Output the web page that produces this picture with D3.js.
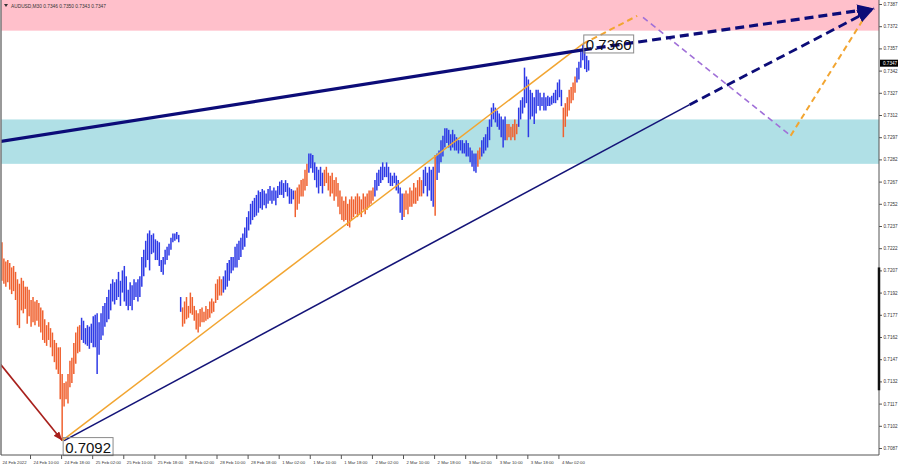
<!DOCTYPE html>
<html><head><meta charset="utf-8">
<script src="https://cdn.jsdelivr.net/npm/d3@7"></script>
<style>body{margin:0;background:#fff}svg{display:block}</style>
</head><body>
<svg id="c" width="900" height="468"></svg>
<script>
// ---------- DATA ----------
const symbolTitle = "AUDUSD,M30  0.7346 0.7350 0.7343 0.7347";
const lastPrice = 0.7347;
const barHighs = [
0.7226,0.7215,0.7213,0.7214,0.7212,0.7209,0.7210,0.7206,0.7201,0.7198,
0.7202,0.7200,0.7196,0.7196,0.7194,0.7187,0.7189,0.7186,0.7187,0.7185,
0.7182,0.7180,0.7174,0.7170,0.7172,0.7168,0.7165,0.7160,0.7158,0.7155,
0.7155,0.7137,0.7131,0.7132,0.7137,0.7146,0.7148,0.7158,0.7165,0.7169,
0.7170,0.7175,0.7173,0.7168,0.7170,0.7169,0.7171,0.7176,0.7177,0.7178,
0.7172,0.7178,0.7183,0.7185,0.7189,0.7194,0.7198,0.7201,0.7199,0.7201,
0.7206,0.7200,0.7207,0.7210,0.7203,0.7194,0.7199,0.7197,0.7201,0.7199,
0.7201,0.7203,0.7216,0.7221,0.7227,0.7232,0.7234,0.7231,0.7232,0.7228,
0.7227,0.7226,0.7214,0.7216,0.7221,0.7223,0.7225,0.7229,0.7232,0.7232,
0.7233,0.7231,
0.7189,0.7182,0.7186,0.7189,0.7183,0.7192,0.7189,0.7183,0.7180,0.7178,
0.7181,0.7182,0.7179,0.7183,0.7181,0.7186,0.7188,0.7186,0.7198,0.7201,
0.7203,0.7201,0.7203,0.7207,0.7212,0.7214,0.7216,0.7216,0.7223,0.7225,
0.7227,0.7229,0.7232,0.7236,0.7243,0.7247,0.7252,0.7254,
0.7256,0.7258,0.7261,0.7260,0.7262,0.7261,0.7259,0.7262,0.7264,0.7261,
0.7263,0.7261,0.7264,0.7267,0.7268,0.7266,0.7268,0.7266,0.7263,0.7262,
0.7261,0.7261,0.7263,0.7265,0.7268,0.7269,0.7275,0.7279,0.7286,0.7286,
0.7285,0.7280,0.7277,0.7275,0.7277,0.7273,
0.7275,0.7277,0.7273,0.7271,0.7273,0.7268,0.7270,0.7266,0.7261,0.7257,
0.7254,0.7257,0.7252,0.7255,0.7257,0.7255,0.7257,0.7259,0.7257,0.7255,
0.7259,0.7257,0.7259,0.7261,0.7261,0.7263,0.7268,0.7273,0.7275,0.7277,
0.7280,0.7277,0.7280,0.7277,0.7273,0.7271,0.7273,0.7271,0.7268,0.7263,
0.7259,
0.7259,0.7261,0.7259,0.7263,0.7261,0.7266,0.7263,0.7268,0.7270,0.7268,
0.7275,0.7277,0.7273,0.7277,0.7275,0.7277,0.7285,0.7286,0.7288,0.7295,
0.7298,0.7303,0.7303,0.7302,0.7299,0.7302,0.7299,0.7297,0.7295,0.7295,
0.7295,0.7293,0.7295,0.7293,0.7290,0.7288,0.7286,0.7286,0.7288,0.7290,
0.7295,0.7297,0.7299,0.7304,0.7309,0.7317,0.7320,0.7317,0.7315,0.7313,
0.7311,0.7309,0.7311,0.7306,0.7306,0.7304,0.7306,0.7309,0.7306,0.7317,
0.7322,0.7324,0.7344,0.7338,0.7336,0.7329,0.7327,0.7324,0.7329,0.7329,
0.7327,0.7324,0.7327,0.7324,0.7325,0.7324,0.7325,0.7327,0.7329,0.7334,
0.7336,0.7329,0.7317,0.7320,0.7324,0.7329,0.7331,0.7334,0.7338,0.7344,
0.7348,0.7356,0.7360,0.7355,0.7352,0.7349
];
const barLows = [
0.7200,0.7198,0.7196,0.7199,0.7194,0.7191,0.7193,0.7187,0.7170,0.7168,
0.7180,0.7178,0.7181,0.7171,0.7176,0.7169,0.7172,0.7170,0.7173,0.7169,
0.7165,0.7160,0.7158,0.7156,0.7160,0.7155,0.7149,0.7145,0.7140,0.7137,
0.7120,0.7092,0.7115,0.7120,0.7117,0.7128,0.7131,0.7137,0.7144,0.7151,
0.7152,0.7160,0.7158,0.7157,0.7156,0.7154,0.7158,0.7155,0.7155,0.7137,
0.7150,0.7160,0.7163,0.7169,0.7172,0.7174,0.7180,0.7186,0.7184,0.7187,
0.7189,0.7183,0.7192,0.7186,0.7183,0.7180,0.7183,0.7180,0.7187,0.7189,
0.7186,0.7189,0.7196,0.7203,0.7209,0.7214,0.7207,0.7218,0.7219,0.7214,
0.7214,0.7210,0.7206,0.7204,0.7211,0.7214,0.7217,0.7221,0.7226,0.7227,
0.7228,0.7226,
0.7179,0.7169,0.7171,0.7174,0.7175,0.7178,0.7177,0.7173,0.7167,0.7165,
0.7169,0.7172,0.7172,0.7173,0.7174,0.7175,0.7178,0.7179,0.7185,0.7187,
0.7190,0.7190,0.7192,0.7194,0.7196,0.7200,0.7205,0.7207,0.7209,0.7209,
0.7214,0.7216,0.7221,0.7223,0.7229,0.7234,0.7238,0.7241,
0.7243,0.7244,0.7246,0.7249,0.7248,0.7251,0.7249,0.7252,0.7254,0.7252,
0.7254,0.7251,0.7256,0.7258,0.7258,0.7256,0.7260,0.7257,0.7252,0.7252,
0.7255,0.7243,0.7248,0.7252,0.7257,0.7257,0.7261,0.7264,0.7273,0.7276,
0.7273,0.7268,0.7263,0.7259,0.7264,0.7259,
0.7264,0.7266,0.7261,0.7257,0.7259,0.7254,0.7257,0.7250,0.7245,0.7241,
0.7240,0.7241,0.7237,0.7236,0.7241,0.7243,0.7245,0.7243,0.7245,0.7243,
0.7248,0.7245,0.7248,0.7250,0.7252,0.7254,0.7257,0.7261,0.7264,0.7266,
0.7268,0.7270,0.7270,0.7266,0.7264,0.7264,0.7266,0.7261,0.7259,0.7246,
0.7241,
0.7243,0.7248,0.7245,0.7250,0.7250,0.7252,0.7252,0.7254,0.7257,0.7257,
0.7259,0.7264,0.7257,0.7261,0.7254,0.7250,0.7244,0.7268,0.7273,0.7280,
0.7284,0.7290,0.7293,0.7290,0.7288,0.7290,0.7288,0.7288,0.7286,0.7288,
0.7286,0.7286,0.7284,0.7284,0.7280,0.7277,0.7274,0.7273,0.7277,0.7282,
0.7284,0.7286,0.7288,0.7290,0.7295,0.7304,0.7309,0.7307,0.7304,0.7302,
0.7297,0.7290,0.7295,0.7295,0.7297,0.7295,0.7297,0.7295,0.7299,0.7304,
0.7309,0.7313,0.7317,0.7320,0.7297,0.7309,0.7311,0.7306,0.7313,0.7318,
0.7315,0.7318,0.7315,0.7315,0.7318,0.7318,0.7319,0.7320,0.7320,0.7322,
0.7324,0.7318,0.7297,0.7304,0.7311,0.7315,0.7320,0.7322,0.7327,0.7334,
0.7336,0.7344,0.7349,0.7343,0.7341,0.7342
];
// bar colour runs: d = down wave (orange), u = up wave (blue)
const colorRuns = [["d",41],["u",52],["d",21],["u",37],["d",7],["u",8],["d",26],["u",15],["d",10],["u",6],["d",1],["u",21],["d",2],["u",13],["d",6],["u",23],["d",7],["u",7]];
const priceTicks = [0.7387,0.7372,0.7357,0.7342,0.7327,0.7312,0.7297,0.7282,0.7267,0.7252,0.7237,0.7222,0.7207,0.7192,0.7177,0.7162,0.7147,0.7132,0.7117,0.7102,0.7087];
const timeTickBars = [0,16,32,48,64,80,96,112,128,144,160,176,192,208,224,240,256,272,288];
const timeTickLabels = ["24 Feb 2022","24 Feb 10:00","24 Feb 18:00","25 Feb 02:00","25 Feb 10:00","25 Feb 18:00","28 Feb 02:00","28 Feb 10:00","28 Feb 18:00","1 Mar 02:00","1 Mar 10:00","1 Mar 18:00","2 Mar 02:00","2 Mar 10:00","2 Mar 18:00","3 Mar 02:00","3 Mar 10:00","3 Mar 18:00","4 Mar 02:00"];
// zones [top price, bottom price]
const resistanceZone = [0.7395, 0.7369];
const supportZone = [0.7309, 0.7279];
// wave points [bar index, price]
const waveLow = [31, 0.7092];
const waveHigh = [299, 0.7360];
const priorDecline = [[-1, 0.7144], [31, 0.7092]];
const upperLineSolid = [[-1, 0.7294], [299, 0.7356]];
const upperLineDash = [[299, 0.7356], [449, 0.7384]];
const lowerLineSolid = [[32, 0.7092], [354, 0.7319]];
const lowerLineDash = [[354, 0.7319], [449, 0.7384]];
const waveLineSolid = [[31, 0.7092], [299, 0.7360]];
const waveLineDash = [[299, 0.7360], [327, 0.7379]];
const forecastDown = [[330, 0.7378], [406, 0.7298]];
const forecastUp = [[406, 0.7298], [444, 0.7378]];
const activeRange = [0.7209, 0.7126];

// ---------- CHART ----------
const svg = d3.select("#c");
const L = 1, R = 879, T = 0, B = 455;
const x = d3.scaleLinear().domain([-1, 452]).range([0, 880]);
const y = d3.scaleLinear().domain([0.7087, 0.7387]).range([448, 4]);
const defs = svg.append("defs");
defs.append("clipPath").attr("id","plot").append("rect").attr("x",L).attr("y",T).attr("width",R-L).attr("height",B-T);
function marker(id, color, w, h){
  defs.append("marker").attr("id",id).attr("markerUnits","userSpaceOnUse")
    .attr("viewBox",`0 0 ${w} ${h}`).attr("refX",w).attr("refY",h/2)
    .attr("markerWidth",w).attr("markerHeight",h).attr("orient","auto")
    .append("path").attr("d",`M0,0L${w},${h/2}L0,${h}Z`).attr("fill",color);
}
marker("navyArrow","#0c0c78",17,13);
marker("redArrow","#a8201c",9,7);

const g = svg.append("g").attr("clip-path","url(#plot)");
g.append("rect").attr("x",L).attr("y",y(resistanceZone[0])).attr("width",R-L)
  .attr("height",y(resistanceZone[1])-y(resistanceZone[0])).attr("fill","#ffc0cb");
g.append("rect").attr("x",L).attr("y",y(supportZone[0])).attr("width",R-L)
  .attr("height",y(supportZone[1])-y(supportZone[0])).attr("fill","#b0e0e6");

// bars
const colors = [];
colorRuns.forEach(([c,n])=>{for(let k=0;k<n;k++) colors.push(c);});
g.append("g").selectAll("line").data(barHighs).join("line")
  .attr("x1",(d,i)=>x(i)).attr("x2",(d,i)=>x(i))
  .attr("y1",d=>y(d)).attr("y2",(d,i)=>y(barLows[i]))
  .attr("stroke",(d,i)=>colors[i]==="u"?"#2e3ae6":"#f0612f")
  .attr("stroke-width",1.5);

const line = d3.line().x(d=>x(d[0])).y(d=>y(d[1]));
function path(pts, color, w, dash, mk){
  const p = g.append("path").attr("d",line(pts)).attr("fill","none")
    .attr("stroke",color).attr("stroke-width",w);
  if(dash) p.attr("stroke-dasharray",dash);
  if(mk) p.attr("marker-end",`url(#${mk})`);
  return p;
}
path(priorDecline,"#a8201c",1.6,null,"redArrow");
path(lowerLineSolid,"#141478",1.6);
path(waveLineSolid,"#f2a531",1.5);
path(waveLineDash,"#f2a531",2,"6,4");
path(forecastDown,"#a070d8",1.6,"6,4");
path(forecastUp,"#f2a531",2,"6,4");
path(upperLineSolid,"#0c0c78",3.2);
path(lowerLineDash,"#0c0c78",2.8,"9,5","navyArrow");
path(upperLineDash,"#0c0c78",3.2,"9,5","navyArrow");

// level labels
function levelLabel(pt, txt, dy){
  const bx = x(pt[0]) + 1, by = y(pt[1]) + dy;
  const t = svg.append("text").attr("x",bx+2).attr("y",by+15).text(txt)
    .attr("font-family","Liberation Sans, Arial, sans-serif").attr("font-size",15).attr("fill","#111");
  const w = t.node().getComputedTextLength();
  svg.insert("rect","text").attr("x",bx).attr("y",by).attr("width",w+4).attr("height",18)
    .attr("fill","none").attr("stroke","#8a8a8a").attr("stroke-width",1);
}
levelLabel(waveHigh, "0.7360", -9);
levelLabel(waveLow, "0.7092", -3);

// frame
svg.append("line").attr("x1",L).attr("x2",L).attr("y1",T).attr("y2",B).attr("stroke","#777").attr("stroke-width",1.5);
svg.append("line").attr("x1",L).attr("x2",R).attr("y1",B).attr("y2",B).attr("stroke","#555");

const smallFont = "Liberation Sans, Arial, sans-serif";
// y axis
const ya = svg.append("g").attr("transform",`translate(${R},0)`)
  .call(d3.axisRight(y).tickValues(priceTicks).tickSize(3).tickPadding(1.5).tickFormat(d3.format(".4f")));
ya.select(".domain").attr("d",`M0,${T}V${B}`).attr("stroke","#555");
ya.selectAll("line").attr("stroke","#555");
ya.selectAll("text").attr("font-size",4.6).attr("font-family",smallFont).attr("fill","#333");
svg.append("line").attr("x1",R).attr("x2",R).attr("y1",y(activeRange[0])).attr("y2",y(activeRange[1]))
  .attr("stroke","#111").attr("stroke-width",2.5);
// current price tag
const cp = svg.append("g").attr("transform",`translate(${R+1},${y(lastPrice)})`);
cp.append("rect").attr("x",0).attr("y",-3.5).attr("width",18).attr("height",7).attr("fill","#000");
cp.append("text").attr("x",3).attr("y",1.7).text(d3.format(".4f")(lastPrice))
  .attr("font-size",4.6).attr("font-family",smallFont).attr("fill","#fff");

// x axis
const xa = svg.append("g").attr("transform",`translate(0,${B})`)
  .call(d3.axisBottom(x).tickValues(timeTickBars).tickSize(4).tickFormat((d,i)=>timeTickLabels[i]));
xa.select(".domain").remove();
xa.selectAll(".tick line").attr("transform","translate(-3,0)").attr("stroke","#555");
xa.selectAll("text").attr("text-anchor","start").attr("dy",0).attr("y",8.5)
  .attr("font-size",4.3).attr("font-family",smallFont).attr("fill","#333");

// title
svg.append("path").attr("d","M4,4L8,4L6,7Z").attr("fill","#333");
svg.append("text").attr("x",11).attr("y",8).text(symbolTitle)
  .attr("font-size",4.8).attr("font-family",smallFont).attr("fill","#333");
</script>
</body></html>
